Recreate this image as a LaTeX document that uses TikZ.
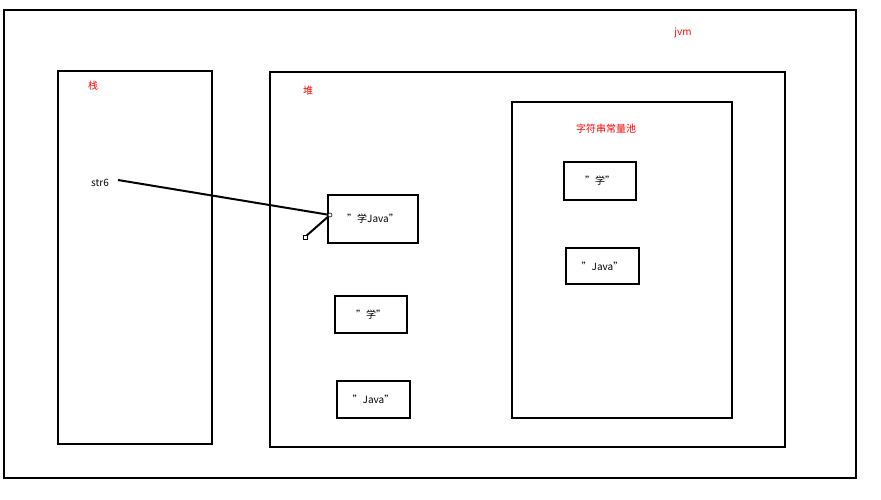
\documentclass[tikz,border=0pt]{standalone}
\usepackage{fontspec}
\usetikzlibrary{calc}
\setmainfont{Noto Sans CJK SC}
\begin{document}
\begin{tikzpicture}[x=1pt,y=-1pt,
  frame/.style={draw=black,line width=2pt},
  box/.style={draw=black,line width=2pt,minimum width=#1,minimum height=36pt,inner sep=0pt,font=\fontsize{10}{12}\selectfont},
  red label/.style={text=red,font=\fontsize{10}{12}\selectfont,inner sep=0pt},
  lab/.style={font=\fontsize{10}{12}\selectfont,inner sep=0pt}]
\useasboundingbox (0,0) rectangle (881,500);
\fill[white] (0,0) rectangle (881,500);
\draw[frame] (4,10) rectangle (856,478);
\draw[frame] (58,71) rectangle (212,444);
\draw[frame] (270,72) rectangle (785,447);
\draw[frame] (512,102) rectangle (732,418);
\node[red label] (jvm) at (683,33) {jvm};
\node[red label] (stack) at (93,86) {栈};
\node[red label] (heap) at (308,91) {堆};
\node[red label] (pool) at (606,129) {字符串常量池};
\node[lab] (str6) at (100,183) {str6};
\node[box=90pt,minimum height=48pt] (xj) at (373,219) {"学Java"};
\node[box=72pt,minimum height=37pt] (hx) at (371,314.5) {"学"};
\node[box=73pt,minimum height=37pt] (hj) at (373.5,399.5) {"Java"};
\node[box=72pt,minimum height=38pt] (px) at (600,181) {"学"};
\node[box=73pt,minimum height=36pt] (pj) at (602.5,266) {"Java"};
\coordinate (s) at (118,180);
\coordinate (e) at (330,215);
\coordinate (h) at (305,237);
\draw[line width=2pt] (s) -- (e);
\draw[line width=2pt] (e) -- (h);
\draw[fill=white,line width=0.6pt] (e) circle (2pt);
\draw[fill=white,line width=0.6pt] ($(h)+(-2,-2)$) rectangle ($(h)+(2,2)$);
\end{tikzpicture}
\end{document}
